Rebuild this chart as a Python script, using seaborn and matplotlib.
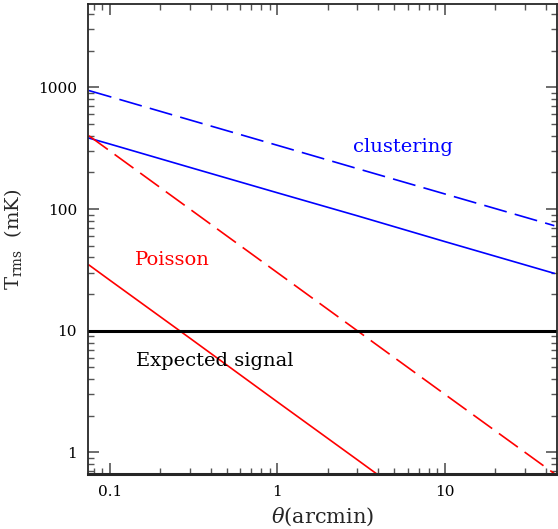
import numpy as np
import pandas as pd
import matplotlib
matplotlib.use("Agg")
import matplotlib.pyplot as plt
import seaborn as sns
from matplotlib.ticker import LogLocator, FixedLocator, FixedFormatter, NullFormatter

# values (log-log, straight power laws)
theta = [0.075, 0.1, 0.3, 1.0, 3.0, 10.0, 45.0]
clust_dashed = [941, 839, 540, 334, 215, 133, 73]
clust_solid = [383, 342, 220, 136, 88, 54, 29.6]
poisson_dashed = [400, 300, 100, 30, 10, 3.0, 0.67]
poisson_solid = [34.7, 26, 8.7, 2.6, 0.87, 0.26, 0.058]
signal_level = 10

xticks = [0.1, 1, 10]
xticklabels = ["0.1", "1", "10"]
yticks = [1, 10, 100, 1000]
yticklabels = ["1", "10", "100", "1000"]

sns.set_style("ticks")
plt.rcParams["font.family"] = ["DejaVu Serif"]
plt.rcParams["mathtext.fontset"] = "dejavuserif"

fig = plt.figure(figsize=(5.58, 5.29), dpi=100)
ax = fig.add_axes([0.158, 0.104, 0.84, 0.888])

df = pd.DataFrame({"theta": theta, "cd": clust_dashed, "cs": clust_solid,
                   "pd": poisson_dashed, "ps": poisson_solid})

sns.lineplot(data=df, x="theta", y="cd", ax=ax, color="#0000ff", lw=1.2).lines[-1].set_dashes((14, 5))
sns.lineplot(data=df, x="theta", y="cs", ax=ax, color="#0000ff", lw=1.2)
sns.lineplot(data=df, x="theta", y="pd", ax=ax, color="#ff0000", lw=1.2).lines[-1].set_dashes((14, 5))
sns.lineplot(data=df, x="theta", y="ps", ax=ax, color="#ff0000", lw=1.2)
ax.axhline(signal_level, color="black", lw=2.2)

ax.set_xscale("log")
ax.set_yscale("log")
ax.set_xlim(0.0742, 46.6)
ax.set_ylim(0.665, 4820)

ax.xaxis.set_major_locator(FixedLocator(xticks))
ax.xaxis.set_major_formatter(FixedFormatter(xticklabels))
ax.yaxis.set_major_locator(FixedLocator(yticks))
ax.yaxis.set_major_formatter(FixedFormatter(yticklabels))
ax.xaxis.set_minor_locator(LogLocator(base=10, subs=np.arange(2, 10)))
ax.yaxis.set_minor_locator(LogLocator(base=10, subs=np.arange(2, 10)))
ax.xaxis.set_minor_formatter(NullFormatter())
ax.yaxis.set_minor_formatter(NullFormatter())

ax.tick_params(which="both", direction="in", top=True, right=True, color="#555555",
               labelsize=11, labelcolor="black")
ax.tick_params(which="major", length=8, width=1.2, pad=8)
ax.tick_params(which="minor", length=4.5, width=1)

for s in ax.spines.values():
    s.set_linewidth(1.3)
ax.spines["bottom"].set_linewidth(2.2)

ax.set_xlabel(r"$\theta$(arcmin)", fontsize=15, labelpad=5)
ax.set_ylabel(r"T$_{\rm rms}$  (mK)", fontsize=14, labelpad=10)

ax.text(5.6, 323, "clustering", color="#0000ff", fontsize=14, ha="center", va="center")
ax.text(0.235, 38.4, "Poisson", color="#ff0000", fontsize=14, ha="center", va="center")
ax.text(0.425, 5.66, "Expected signal", color="black", fontsize=14, ha="center", va="center")

fig.savefig("out.png", dpi=100)
